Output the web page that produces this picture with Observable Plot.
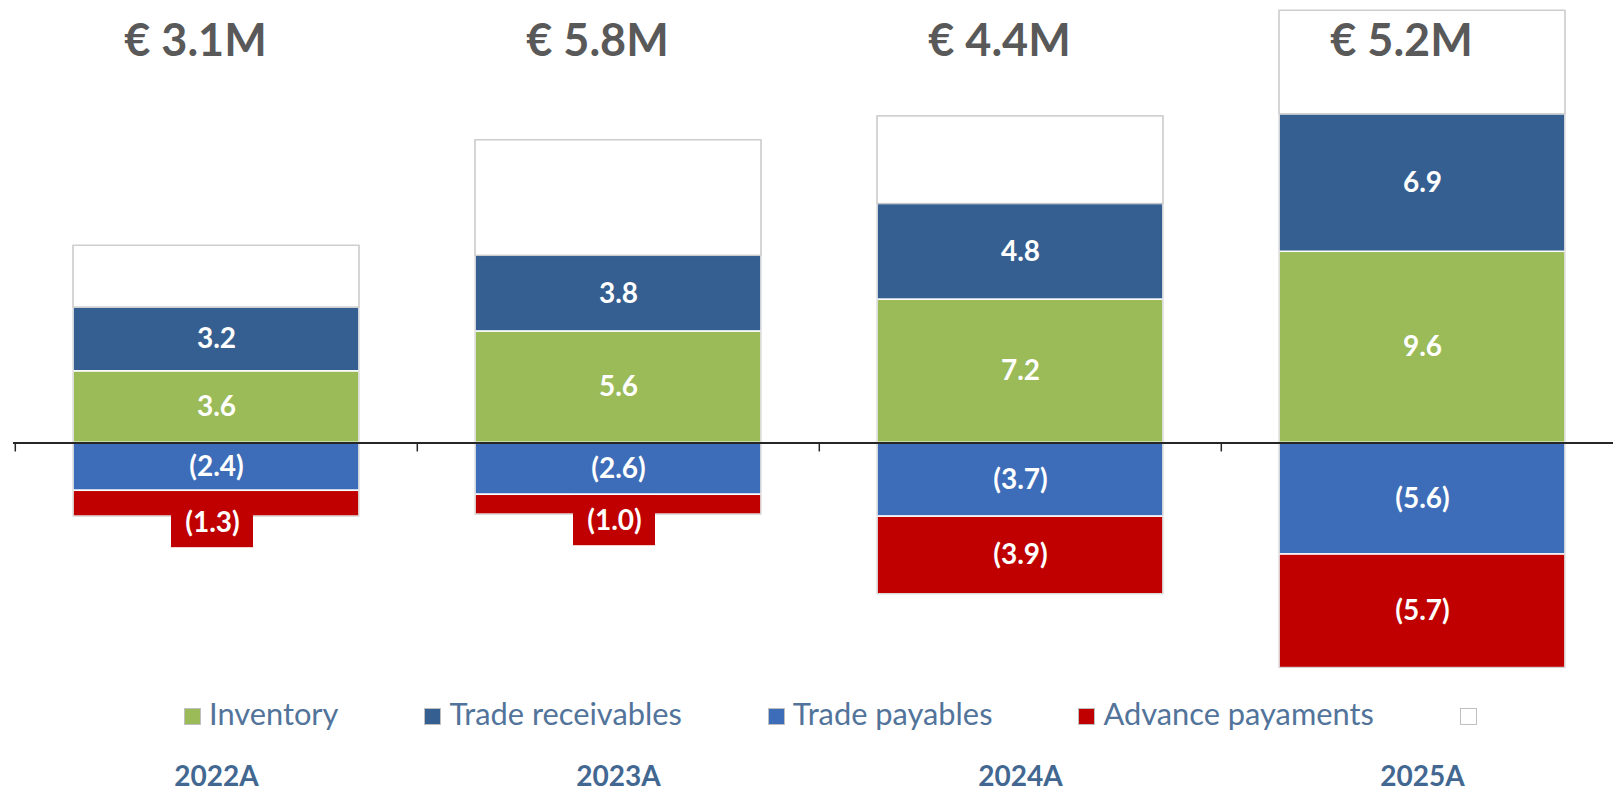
<!DOCTYPE html>
<html>
<head>
<meta charset="utf-8">
<script src="https://cdn.jsdelivr.net/npm/d3@7"></script>
<script src="https://cdn.jsdelivr.net/npm/@observablehq/plot@0.6"></script>
<style>
  html, body { margin: 0; padding: 0; background: #fff; overflow: hidden; }
  #wrap { position: relative; width: 1613px; height: 795px; }
  #legend { position: absolute; left: 184px; top: 699px; display: flex; align-items: center;
            font-family: Lato, sans-serif; font-size: 30.8px; line-height: 30px; color: #52739a; white-space: nowrap; }
  .item { display: flex; align-items: center; margin-right: 86px; }
  .sw { width: 15px; height: 15px; border: 1px solid #bfbfbf; margin-right: 8px; position: relative; top: 2px; }
</style>
</head>
<body>
<div id="wrap"><div id="legend"></div></div>
<script>
// ---- data ----
const years = ["2022A", "2023A", "2024A", "2025A"];
const inventory = [3.6, 5.6, 7.2, 9.6];
const tradeReceivables = [3.2, 3.8, 4.8, 6.9];
const tradePayables = [-2.4, -2.6, -3.7, -5.6];
const advancePayments = [-1.3, -1.0, -3.9, -5.7];
const netWorkingCapital = [3.1, 5.8, 4.4, 5.2];

const seriesNames = ["Inventory", "Trade receivables", "Trade payables", "Advance payaments", ""];
const seriesColors = ["#9bbb59", "#365f91", "#3d6db8", "#c00000", "#ffffff"];

// ---- build stacked table ----
const stackOrder = [
  ["Inventory", inventory],
  ["Trade receivables", tradeReceivables],
  ["", netWorkingCapital],
  ["Trade payables", tradePayables],
  ["Advance payaments", advancePayments]
];
const rows = [];
const totals = [];
years.forEach((yr, i) => {
  let pos = 0, neg = 0;
  for (const [name, arr] of stackOrder) {
    const v = arr[i];
    let y1, y2;
    if (v >= 0) { y1 = pos; y2 = pos + v; pos = y2; } else { y1 = neg; y2 = neg + v; neg = y2; }
    rows.push({year: yr, series: name, value: v, y1, y2});
  }
  totals.push({year: yr, lo: neg, hi: pos});
});
const fmt = v => v < 0 ? `(${Math.abs(v).toFixed(1)})` : v.toFixed(1);
const isSmall = d => d.series === "Advance payaments" && Math.abs(d.value) < 1.5;

const xRange = [13.8, 1623.4];
const step = (xRange[1] - xRange[0]) / years.length;

const chart = Plot.plot({
  width: 1613,
  height: 795,
  marginLeft: 13, marginRight: 0, marginTop: 0, marginBottom: 0,
  style: {fontFamily: "Lato, sans-serif", background: "#fff"},
  x: {type: "band", domain: years, range: xRange, paddingInner: 0.289, paddingOuter: 0.1445, axis: null},
  y: {domain: [-12, 22], range: [681.5, 4.3], axis: null},
  color: {domain: seriesNames, range: seriesColors},
  marks: [
    Plot.barY(rows.filter(d => d.series !== ""), {x: "year", y1: "y1", y2: "y2", fill: "series", stroke: "#ffffff", strokeWidth: 1.5}),
    Plot.barY(rows.filter(d => d.series === ""), {x: "year", y1: "y1", y2: "y2", fill: "#ffffff", stroke: "#c4c4c4", strokeWidth: 1.2}),
    Plot.barY(totals, {x: "year", y1: "lo", y2: "hi", fill: "none", stroke: "#cfcfcf", strokeWidth: 1}),
    Plot.barY(rows.filter(isSmall), {x: "year", y1: "y2", y2: "y2", fill: "#c00000",
      insetTop: -19, insetBottom: -31, insetLeft: 98, insetRight: 106}),
    Plot.text(rows.filter(d => d.series !== "" && !isSmall(d)), {x: "year", y: d => (d.y1 + d.y2) / 2,
      text: d => fmt(d.value), fill: "#ffffff", fontSize: 28, fontWeight: 700}),
    Plot.text(rows.filter(isSmall), {x: "year", y: "y2", dy: 6, dx: -4,
      text: d => fmt(d.value), fill: "#ffffff", fontSize: 28, fontWeight: 700}),
    Plot.ruleY([0], {stroke: "#262626", strokeWidth: 2}),
    Plot.ruleX(years, {x: d => d, y1: 0, y2: 0, insetBottom: -9, dx: -step / 2, stroke: "#262626", strokeWidth: 1.5}),
    Plot.text(years, {x: d => d, text: (d, i) => `€ ${netWorkingCapital[i].toFixed(1)}M`, frameAnchor: "top", lineAnchor: "top",
      dy: 24, dx: -21, fontSize: 45, fontWeight: 700, fill: "#595959"}),
    Plot.text(years, {x: d => d, frameAnchor: "bottom", lineAnchor: "bottom", dy: -10,
      fontSize: 28, fontWeight: 700, fill: "#426791"})
  ]
});
const wrap = document.getElementById("wrap");
wrap.insertBefore(chart, wrap.firstChild);
chart.style.position = "absolute";
chart.style.left = "0";
chart.style.top = "0";

// ---- legend ----
const legend = document.getElementById("legend");
seriesNames.forEach((name, i) => {
  const item = document.createElement("div");
  item.className = "item";
  const sw = document.createElement("div");
  sw.className = "sw";
  sw.style.background = seriesColors[i];
  item.appendChild(sw);
  if (name) {
    const t = document.createElement("span");
    t.textContent = name;
    item.appendChild(t);
  }
  legend.appendChild(item);
});
</script>
</body>
</html>
